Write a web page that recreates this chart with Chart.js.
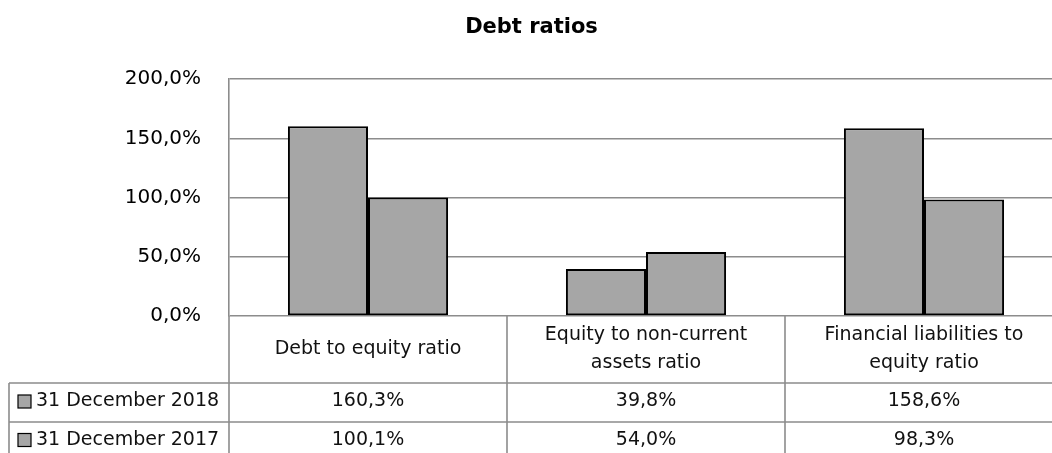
<!DOCTYPE html>
<html>
<head>
<meta charset="utf-8">
<script src="https://cdn.jsdelivr.net/npm/chart.js@4"></script>
<style>
  html, body { margin: 0; padding: 0; background: #fff; overflow: hidden; }
  #wrap { width: 1064px; height: 453px; }
</style>
</head>
<body>
<div id="wrap"><canvas id="ratios"></canvas></div>
<script>
var categories = [
  ["Debt to equity ratio"],
  ["Equity to non-current", "assets ratio"],
  ["Financial liabilities to", "equity ratio"]
];
var seriesNames = ["31 December 2018", "31 December 2017"];
var dec2018 = [160.3, 39.8, 158.6];
var dec2017 = [100.1, 54.0, 98.3];
var yTicks = [0, 50, 100, 150, 200];

var FONT = "'DejaVu Sans', sans-serif";
var GRID = "#8c8c8c";
var BAR = "#a6a6a6";

function fmt(v) {
  return v.toFixed(1).replace(".", ",") + "%";
}

// draws the data table under the plot, lined up with the x scale
var tablePlugin = {
  id: "dataTable",
  afterDraw: function (chart) {
    var ctx = chart.ctx;
    var area = chart.chartArea;
    var x = chart.scales.x;
    var n = categories.length;
    var colW = (area.right - area.left) / n;
    var top = area.bottom;
    var row1 = top + 67;
    var row2 = row1 + 39;
    var bottom = chart.height + 10;
    var leftEdge = 9;

    ctx.save();
    ctx.strokeStyle = GRID;
    ctx.lineWidth = 1.6;
    ctx.beginPath();
    ctx.moveTo(leftEdge, row1); ctx.lineTo(area.right, row1);
    ctx.moveTo(leftEdge, row2); ctx.lineTo(area.right, row2);
    ctx.moveTo(leftEdge, row1); ctx.lineTo(leftEdge, bottom);
    for (var i = 0; i <= n; i++) {
      var lx = area.left + colW * i;
      ctx.moveTo(lx, top); ctx.lineTo(lx, bottom);
    }
    ctx.stroke();

    ctx.fillStyle = "#111";
    ctx.font = "19px " + FONT;
    ctx.textAlign = "center";
    ctx.textBaseline = "middle";
    categories.forEach(function (lines, i) {
      var cx = x.getPixelForValue(i);
      var mid = (top + row1) / 2;
      var lh = 28;
      var y0 = mid - (lines.length - 1) * lh / 2;
      lines.forEach(function (t, k) {
        ctx.fillText(t, cx, y0 + k * lh);
      });
    });

    var rows = [dec2018, dec2017];
    var rowMids = [(row1 + row2) / 2 - 1, row2 + 18];
    rows.forEach(function (vals, r) {
      var cy = rowMids[r];
      vals.forEach(function (v, i) {
        ctx.textAlign = "center";
        ctx.fillText(fmt(v), x.getPixelForValue(i), cy);
      });
      ctx.fillStyle = BAR;
      ctx.fillRect(18, cy - 6.5, 13, 13);
      ctx.strokeStyle = "#000";
      ctx.lineWidth = 1.2;
      ctx.strokeRect(18, cy - 6.5, 13, 13);
      ctx.fillStyle = "#111";
      ctx.textAlign = "left";
      ctx.fillText(seriesNames[r], 36, cy);
    });
    ctx.restore();
  }
};

var el = document.getElementById("ratios");
var ratioChart = new Chart(el, {
  type: "bar",
  data: {
    labels: categories,
    datasets: [
      {
        label: seriesNames[0],
        data: dec2018,
        backgroundColor: BAR,
        borderColor: "#000",
        borderWidth: 2,
        borderSkipped: false
      },
      {
        label: seriesNames[1],
        data: dec2017,
        backgroundColor: BAR,
        borderColor: "#000",
        borderWidth: 2,
        borderSkipped: false
      }
    ]
  },
  options: {
    responsive: true,
    maintainAspectRatio: false,
    animation: false,
    layout: { padding: { left: 0, right: 1, top: 0, bottom: 137 } },
    datasets: { bar: { categoryPercentage: 0.576, barPercentage: 1 } },
    plugins: {
      legend: { display: false },
      tooltip: { enabled: false },
      title: {
        display: true,
        text: "Debt ratios",
        color: "#000",
        font: { family: FONT, size: 21, weight: "bold" },
        padding: { top: 15, bottom: 39 }
      }
    },
    scales: {
      x: { display: false },
      y: {
        min: 0,
        max: 200,
        afterBuildTicks: function (s) {
          s.ticks = yTicks.map(function (v) { return { value: v }; });
        },
        afterFit: function (s) { s.width = 229; },
        border: { display: true, color: GRID, width: 1.6 },
        grid: { color: GRID, lineWidth: 1.6, drawTicks: false },
        ticks: {
          padding: 28,
          color: "#000",
          font: { family: FONT, size: 20 },
          callback: function (v) { return fmt(v); }
        }
      }
    }
  },
  plugins: [tablePlugin]
});
</script>
</body>
</html>
